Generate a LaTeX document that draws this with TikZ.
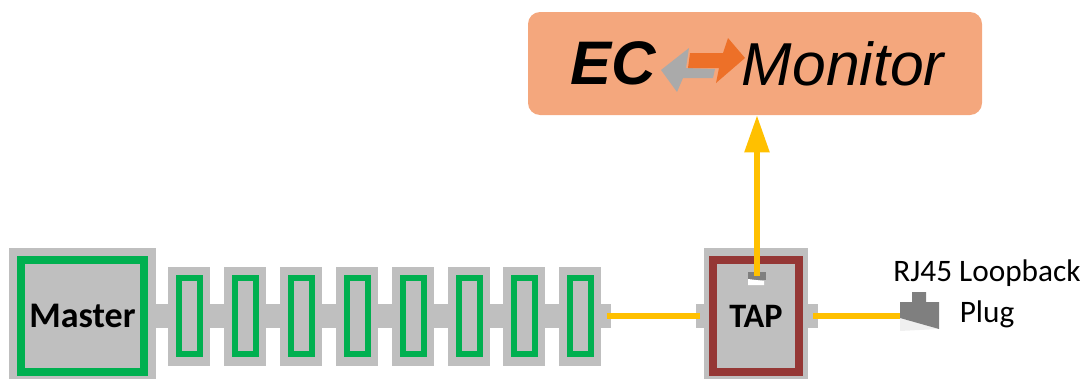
\documentclass[tikz,border=0pt]{standalone}
\usepackage{fontspec}
\setmainfont{Carlito}
\newfontfamily\logofont{Liberation Sans}
\usepackage{tikz}
\usetikzlibrary{calc, arrows.meta, positioning}
\definecolor{lightgray}{RGB}{191, 191, 191}
\definecolor{busgreen}{RGB}{0, 176, 80}
\definecolor{tapbrown}{RGB}{149, 55, 53}
\definecolor{linkyellow}{RGB}{255, 192, 0}
\definecolor{monitororange}{RGB}{244, 167, 125}
\definecolor{arroworange}{RGB}{237, 112, 40}
\definecolor{arrowgray}{RGB}{170, 170, 170}
\definecolor{pluggray}{RGB}{127, 127, 127}
\definecolor{plugwhite}{RGB}{240, 240, 240}
\tikzset{
    graybox/.style={rectangle, fill=lightgray, inner sep=0pt, outer sep=0pt},
    framebox/.style={rectangle, draw=#1, fill=lightgray, inner sep=0pt, outer sep=0pt},
    link/.style={color=linkyellow, line width=5.5*0.02cm},
    boxlabel/.style={font=\fontsize{20.5}{24}\selectfont\bfseries, text=black},
}
\begin{document}
\begin{tikzpicture}[x=0.02cm, y=-0.02cm]
        \useasboundingbox (0, 0) rectangle (1086, 379);

        \node[graybox, minimum width=147*0.02cm, minimum height=131*0.02cm] (masterback) at (82.5, 313.5){};
        \node[graybox, minimum width=104*0.02cm, minimum height=131*0.02cm] (tapback) at (756, 313.5){};
        \foreach \i in {1,...,8}
            \node[graybox, minimum width=42*0.02cm, minimum height=99*0.02cm] (slaveback\i) at (133.1 + 55.9*\i, 316){};
        \node[graybox, minimum width=9*0.02cm, minimum height=24*0.02cm] (stubout) at (606.5, 316){};
        \node[graybox, minimum width=8*0.02cm, minimum height=24*0.02cm] (stubtapin) at (700, 316){};
        \node[graybox, minimum width=10*0.02cm, minimum height=24*0.02cm] (stubtapout) at (813, 316){};
        \draw[color=lightgray, line width=24*0.02cm] (masterback.east |- stubout) -- (stubout);

        \node[framebox=busgreen, line width=8*0.02cm, minimum width=123*0.02cm, minimum height=111.5*0.02cm, boxlabel] (master) at (82.5, 316){Master};
        \foreach \i in {1,...,8}
            \node[framebox=busgreen, line width=6*0.02cm, minimum width=21*0.02cm, minimum height=75.5*0.02cm] (slave\i) at (133.6 + 55.9*\i, 316){};
        \node[framebox=tapbrown, line width=8*0.02cm, minimum width=86*0.02cm, minimum height=111.5*0.02cm, boxlabel, font=\fontsize{19.5}{24}\selectfont\bfseries] (tap) at (756, 316){TAP};

        % small port on top of the tap
        \node[rectangle, fill=pluggray, inner sep=0pt, minimum width=18*0.02cm, minimum height=8*0.02cm] (tapport) at (757, 276){};
        \fill[color=white] (748, 279) -- (764, 281) -- (764, 285) -- (748, 285) -- cycle;

        \node[rectangle, fill=monitororange, rounded corners=12*0.02cm, inner sep=0pt, minimum width=454*0.02cm, minimum height=103*0.02cm] (monitor) at (755, 63.5){};
        \fill[color=arrowgray] (661, 70) -- (689, 48) -- (686, 68) -- (715, 69) -- (713, 78) -- (683, 78) -- (677, 92) -- cycle;
        \fill[color=arroworange] (690, 53) -- (723, 53) -- (728, 38) -- (745, 58) -- (716, 83) -- (719, 68) -- (688, 68) -- cycle;
        \node[inner sep=0pt, font=\logofont\fontsize{35}{40}\selectfont\bfseries\itshape] (eclabel) at (613, 63){EC};
        \node[inner sep=0pt, font=\logofont\fontsize{34.5}{40}\selectfont\itshape] (monitorlabel) at (843, 64){Monitor};

        % plug
        \node[rectangle, inner sep=0pt, minimum width=39*0.02cm, minimum height=27*0.02cm] (plug) at (919.5, 316){};
        \fill[color=plugwhite] (900, 318) -- (939, 329) -- (900, 331) -- cycle;
        \fill[color=pluggray] (912, 292) -- (926, 292) -- (926, 302) -- (939, 302) -- (939, 329) -- (900, 318) -- (900, 302) -- (912, 302) -- cycle;
        \node[align=center, inner sep=0pt, font=\fontsize{17.8}{23}\selectfont] (pluglabel) at (987, 294){RJ45 Loopback\\Plug};

        \draw[link] (stubout.center) -- (stubtapin.center);
        \draw[link] (stubtapout.center) -- (plug.west);
        \draw[link, -{Triangle[length=37*0.02cm, width=24*0.02cm]}] (tapport.center) -- (tapport.center |- monitor.south);
\end{tikzpicture}
\end{document}
